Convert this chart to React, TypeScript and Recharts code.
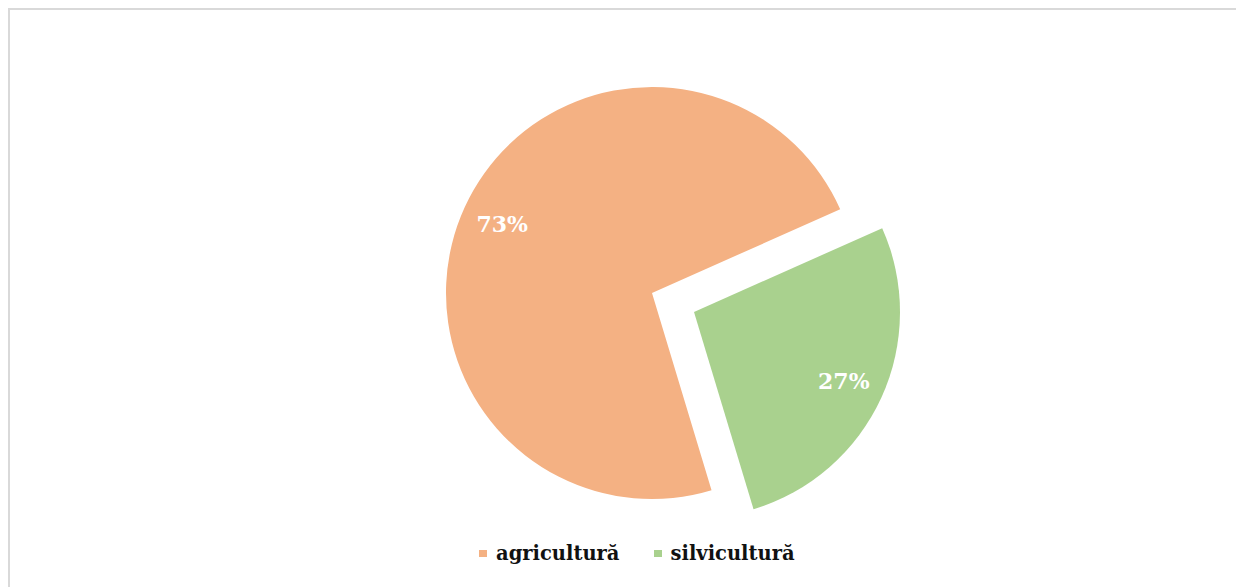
import React from 'react';
import { PieChart, Pie, Cell, Legend } from 'recharts';

const categories = ['agricultură', 'silvicultură'];
const shares = [73, 27];
const colors = ['#F4B183', '#A9D18E'];

const data = categories.map((name, i) => ({ name, value: shares[i] }));

const RADIAN = Math.PI / 180;
const FONT = '"DejaVu Serif", "Liberation Serif", serif';

// label only the slice that belongs to this pie layer
const makeLabel = (showIndex: number) => (props: any) => {
  const { cx, cy, midAngle, outerRadius, percent, index } = props;
  if (index !== showIndex) return null;
  const r = outerRadius * 0.8;
  const x = cx + r * Math.cos(-midAngle * RADIAN);
  const y = cy + r * Math.sin(-midAngle * RADIAN);
  return (
    <text
      x={x}
      y={y}
      fill="#ffffff"
      textAnchor="middle"
      dominantBaseline="central"
      style={{ fontFamily: FONT, fontWeight: 700, fontSize: 22 }}
    >
      {`${Math.round(percent * 100)}%`}
    </text>
  );
};

const LegendContent = () => (
  <div style={{ display: 'flex', alignItems: 'center', fontFamily: FONT, fontWeight: 700, fontSize: 19.5, color: '#111' }}>
    {categories.map((c, i) => (
      <div key={c} style={{ display: 'flex', alignItems: 'center', marginRight: i === 0 ? 34 : 0 }}>
        <span style={{ display: 'inline-block', width: 8, height: 7, background: colors[i], marginRight: 9 }} />
        <span>{c}</span>
      </div>
    ))}
  </div>
);

const App: React.FC = () => {
  return (
    <div style={{ width: 1228, height: 579, overflow: 'hidden' }}>
      <div
        style={{
          width: 1250,
          height: 579,
          borderTop: '2px solid #d9d9d9',
          borderLeft: '2px solid #d9d9d9',
          background: '#fff',
          boxSizing: 'border-box',
        }}
      >
        <PieChart width={1234} height={577} margin={{ top: 0, right: 0, bottom: 0, left: 0 }}>
          <Pie
            data={data}
            dataKey="value"
            nameKey="name"
            cx={642}
            cy={283}
            outerRadius={206}
            startAngle={24}
            endAngle={384}
            stroke="none"
            labelLine={false}
            label={makeLabel(0)}
            legendType="none"
            isAnimationActive={false}
          >
            {data.map((d, i) => (
              <Cell key={d.name} fill={i === 0 ? colors[0] : 'transparent'} />
            ))}
          </Pie>
          <Pie
            data={data}
            dataKey="value"
            nameKey="name"
            cx={684}
            cy={302}
            outerRadius={206}
            startAngle={24}
            endAngle={384}
            stroke="none"
            labelLine={false}
            label={makeLabel(1)}
            legendType="none"
            isAnimationActive={false}
          >
            {data.map((d, i) => (
              <Cell key={d.name} fill={i === 1 ? colors[1] : 'transparent'} />
            ))}
          </Pie>
          <Legend
            content={<LegendContent />}
            wrapperStyle={{ position: 'absolute', top: 532, left: 469, width: 'auto', bottom: 'auto' }}
          />
        </PieChart>
      </div>
    </div>
  );
};

export default App;
